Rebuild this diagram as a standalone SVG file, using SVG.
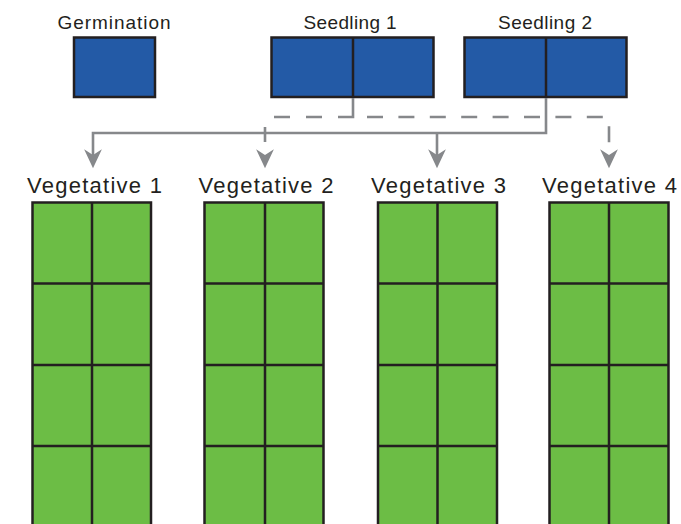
<svg xmlns="http://www.w3.org/2000/svg" width="681" height="524" viewBox="0 0 681 524">
<style>
  .lbl{font-family:"Liberation Sans",Arial,sans-serif;fill:#231f20;text-anchor:middle;}
  .top{font-size:19px;}
  .veg{font-size:22px;}
  .blue{fill:#235aa6;stroke:#231f20;stroke-width:2.5;}
  .green{fill:#6cbd45;stroke:#231f20;stroke-width:2.5;}
  .div{stroke:#231f20;stroke-width:2.5;fill:none;}
  .conn{fill:none;stroke:#86888b;stroke-width:2.6;}
</style>
<defs>
  <marker id="ah" markerUnits="userSpaceOnUse" markerWidth="20" markerHeight="20" viewBox="0 -9 18 18" refX="6" refY="0" orient="auto">
    <path d="M0,-8 L17,0 L0,8 L5,0 Z" fill="#86888b"/>
  </marker>
</defs>
<rect width="681" height="524" fill="#ffffff"/>

<g id="germination">
  <text class="lbl top" x="114" y="29" textLength="113" lengthAdjust="spacing">Germination</text>
  <rect class="blue" x="74" y="37.5" width="81" height="59.5"/>
</g>
<g id="seedling1">
  <text class="lbl top" x="350" y="29" textLength="93" lengthAdjust="spacing">Seedling 1</text>
  <rect class="blue" x="271.5" y="37.5" width="162" height="59.5"/>
  <line class="div" x1="353" y1="37.5" x2="353" y2="97"/>
</g>
<g id="seedling2">
  <text class="lbl top" x="545" y="29" textLength="94" lengthAdjust="spacing">Seedling 2</text>
  <rect class="blue" x="464.5" y="37.5" width="162" height="59.5"/>
  <line class="div" x1="546" y1="37.5" x2="546" y2="97"/>
</g>

<g id="connectors">
  <path class="conn" d="M546,98 V133 H93 V156" marker-end="url(#ah)"/>
  <path class="conn" d="M437,133 V156" marker-end="url(#ah)"/>
  <path class="conn" d="M353,98 V117 H265 V156" stroke-dasharray="34 16 16 16 16 19 15 40" marker-end="url(#ah)"/>
  <path class="conn" d="M353,117 H609 V156" stroke-dasharray="16 15.4" stroke-dashoffset="-14" marker-end="url(#ah)"/>
</g>

<g id="vegetative1">
  <text class="lbl veg" x="94.5" y="192.5" textLength="135" lengthAdjust="spacing">Vegetative 1</text>
  <rect class="green" x="32.5" y="202.5" width="118.5" height="326"/>
  <path class="div" d="M92,202.5 V528 M32.5,283.5 H151 M32.5,365 H151 M32.5,446 H151"/>
</g>
<g id="vegetative2">
  <text class="lbl veg" x="266" y="192.5" textLength="135" lengthAdjust="spacing">Vegetative 2</text>
  <rect class="green" x="204.5" y="202.5" width="119" height="326"/>
  <path class="div" d="M265,202.5 V528 M204.5,283.5 H323.5 M204.5,365 H323.5 M204.5,446 H323.5"/>
</g>
<g id="vegetative3">
  <text class="lbl veg" x="438.5" y="192.5" textLength="135" lengthAdjust="spacing">Vegetative 3</text>
  <rect class="green" x="378" y="202.5" width="119" height="326"/>
  <path class="div" d="M437.5,202.5 V528 M378,283.5 H497 M378,365 H497 M378,446 H497"/>
</g>
<g id="vegetative4">
  <text class="lbl veg" x="609.5" y="192.5" textLength="135" lengthAdjust="spacing">Vegetative 4</text>
  <rect class="green" x="549.5" y="202.5" width="119" height="326"/>
  <path class="div" d="M609,202.5 V528 M549.5,283.5 H668.5 M549.5,365 H668.5 M549.5,446 H668.5"/>
</g>
</svg>
